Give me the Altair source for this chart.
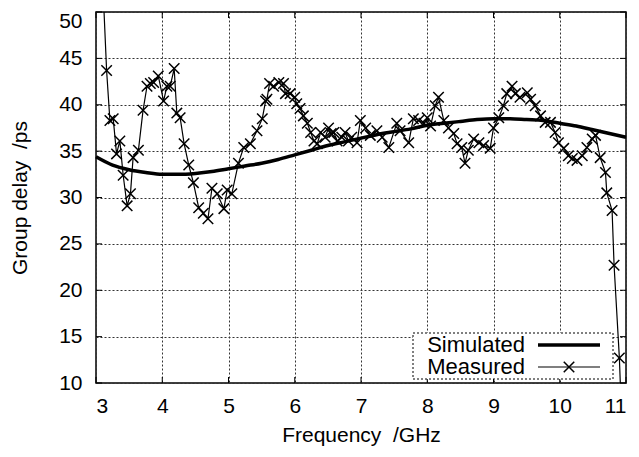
import altair as alt
import pandas as pd

# ---------------- data ----------------
meas_f = [3.06, 3.16, 3.21, 3.26, 3.31, 3.36, 3.41, 3.47, 3.52, 3.56, 3.64, 3.71,
          3.77, 3.82, 3.87, 3.94, 4.02, 4.07, 4.12, 4.18, 4.22, 4.27, 4.33, 4.40,
          4.47, 4.55, 4.62, 4.69, 4.75, 4.83, 4.93, 4.98, 5.05, 5.15, 5.23, 5.33,
          5.43, 5.51, 5.56, 5.58, 5.62, 5.68, 5.76, 5.83, 5.86, 5.93, 6.00, 6.03,
          6.08, 6.13, 6.19, 6.24, 6.29, 6.34, 6.39, 6.46, 6.51, 6.55, 6.59, 6.64,
          6.71, 6.76, 6.81, 6.86, 6.94, 6.99, 7.07, 7.14, 7.24, 7.32, 7.42, 7.54,
          7.59, 7.72, 7.79, 7.87, 7.95, 8.00, 8.05, 8.12, 8.17, 8.25, 8.32, 8.40,
          8.45, 8.52, 8.57, 8.62, 8.70, 8.78, 8.85, 8.95, 9.00, 9.08, 9.15, 9.20,
          9.28, 9.33, 9.40, 9.51, 9.56, 9.63, 9.71, 9.78, 9.86, 9.93, 9.98, 10.06,
          10.13, 10.19, 10.26, 10.34, 10.41, 10.49, 10.54, 10.61, 10.69, 10.71,
          10.79, 10.82, 10.90, 10.95]
meas_v = [60.0, 43.7, 38.3, 38.5, 34.7, 36.1, 32.4, 29.1, 30.4, 34.3, 35.1, 39.4,
          42.0, 42.3, 42.4, 43.1, 40.4, 42.0, 42.0, 43.9, 39.1, 38.6, 35.8, 33.5,
          31.6, 28.9, 28.3, 27.7, 31.0, 30.4, 28.8, 30.8, 30.4, 33.7, 35.4, 35.8,
          37.2, 38.5, 40.4, 40.6, 42.3, 42.0, 42.4, 42.3, 41.2, 41.2, 40.8, 40.1,
          39.6, 38.8, 38.0, 37.0, 36.1, 35.8, 37.0, 36.5, 37.5, 36.9, 37.0, 36.1,
          36.5, 37.0, 36.1, 36.5, 35.9, 38.3, 37.5, 36.7, 37.2, 36.5, 35.4, 38.0,
          37.2, 35.9, 38.5, 38.3, 38.0, 38.6, 37.7, 39.9, 40.8, 38.3, 37.5, 36.9,
          35.8, 35.4, 33.7, 35.1, 36.3, 35.9, 35.6, 35.3, 37.5, 38.6, 39.9, 41.2,
          42.0, 41.2, 40.8, 41.3, 40.6, 39.9, 38.8, 38.1, 38.1, 37.0, 35.9, 35.3,
          34.5, 34.2, 34.0, 34.5, 35.4, 36.3, 36.7, 34.3, 32.7, 30.5,
          28.6, 22.7, 12.7, 3.0]

sim_f = [3.0, 3.25, 3.5, 3.75, 4.0, 4.25, 4.5, 4.75, 5.0, 5.25, 5.5, 5.75, 6.0,
         6.25, 6.5, 6.75, 7.0, 7.25, 7.5, 7.75, 8.0, 8.25, 8.5, 8.75, 9.0, 9.25,
         9.5, 9.75, 10.0, 10.25, 10.5, 10.75, 11.0]
sim_v = [34.4, 33.5, 33.0, 32.7, 32.5, 32.5, 32.6, 32.8, 33.1, 33.4, 33.7, 34.1,
         34.6, 35.1, 35.6, 36.0, 36.4, 36.8, 37.1, 37.4, 37.8, 38.0, 38.2, 38.4,
         38.5, 38.5, 38.4, 38.3, 38.0, 37.7, 37.3, 36.9, 36.5]

x_ticks = [3, 4, 5, 6, 7, 8, 9, 10, 11]
y_ticks = [10, 15, 20, 25, 30, 35, 40, 45, 50]
legend_labels = ["Simulated", "Measured"]

measured = pd.DataFrame({"f": meas_f, "v": meas_v})
simulated = pd.DataFrame({"f": sim_f, "v": sim_v})
xt = pd.DataFrame({"t": x_ticks})
yt = pd.DataFrame({"t": y_ticks})

FONT = "Liberation Sans"
FS = 21
W, H = 530, 371
XSHAPE = "M-1,-1L1,1M-1,1L1,-1"

x_scale = alt.Scale(domain=[3, 11], nice=False, zero=False)
y_scale = alt.Scale(domain=[10, 50], nice=False, zero=False)

x_axis = alt.Axis(title="Frequency \u00a0/GHz", values=x_ticks, format="d",
                  labelPadding=12, titlePadding=8)
y_axis = alt.Axis(title="Group delay \u00a0/ps", values=y_ticks, format="d",
                  labelPadding=14, titlePadding=28,
                  labelOffset={"condition": {"test": "datum.value == 50", "value": 9},
                               "value": 0})

sim = alt.Chart(simulated).mark_line(
    color="black", strokeWidth=3.5, interpolate="monotone"
).encode(
    x=alt.X("f:Q", scale=x_scale, axis=x_axis),
    y=alt.Y("v:Q", scale=y_scale, axis=y_axis),
)

meas_line = alt.Chart(measured).mark_line(
    color="black", strokeWidth=1.2, clip=True
).encode(x=alt.X("f:Q", scale=x_scale), y=alt.Y("v:Q", scale=y_scale))

meas_pts = alt.Chart(measured).mark_point(
    shape=XSHAPE, size=110, strokeWidth=1.5, color="black", filled=False,
    opacity=1, clip=True
).encode(x=alt.X("f:Q", scale=x_scale), y=alt.Y("v:Q", scale=y_scale))

# inward tick marks on all four sides
TL = 6
tick_b = alt.Chart(xt).mark_rule(color="black", strokeWidth=1).encode(
    x=alt.X("t:Q", scale=x_scale), y=alt.value(H), y2=alt.value(H - TL))
tick_t = alt.Chart(xt).mark_rule(color="black", strokeWidth=1).encode(
    x=alt.X("t:Q", scale=x_scale), y=alt.value(0), y2=alt.value(TL))
tick_l = alt.Chart(yt).mark_rule(color="black", strokeWidth=1).encode(
    y=alt.Y("t:Q", scale=y_scale), x=alt.value(0), x2=alt.value(TL))
tick_r = alt.Chart(yt).mark_rule(color="black", strokeWidth=1).encode(
    y=alt.Y("t:Q", scale=y_scale), x=alt.value(W), x2=alt.value(W - TL))

# legend (gnuplot style: text left, sample right)
one = pd.DataFrame({"a": [0]})
leg_box = alt.Chart(one).mark_rect(
    fill="white", stroke="black", strokeDash=[2, 2], strokeWidth=1
).encode(x=alt.value(317), x2=alt.value(517), y=alt.value(321), y2=alt.value(367))
leg_t1 = alt.Chart(one).mark_text(
    align="right", baseline="middle", fontSize=22, font=FONT, color="black"
).encode(x=alt.value(429), y=alt.value(333), text=alt.value(legend_labels[0]))
leg_t2 = alt.Chart(one).mark_text(
    align="right", baseline="middle", fontSize=22, font=FONT, color="black"
).encode(x=alt.value(429), y=alt.value(355), text=alt.value(legend_labels[1]))
leg_l1 = alt.Chart(one).mark_rule(color="black", strokeWidth=3.5).encode(
    x=alt.value(442), x2=alt.value(504), y=alt.value(333))
leg_l2 = alt.Chart(one).mark_rule(color="black", strokeWidth=1.2).encode(
    x=alt.value(442), x2=alt.value(504), y=alt.value(355))
leg_p2 = alt.Chart(one).mark_point(
    shape=XSHAPE, size=110, strokeWidth=1.5, color="black", filled=False, opacity=1
).encode(x=alt.value(473), y=alt.value(355))

chart = alt.layer(
    sim, meas_line, meas_pts, tick_b, tick_t, tick_l, tick_r,
    leg_box, leg_t1, leg_t2, leg_l1, leg_l2, leg_p2
).properties(
    width=W, height=H,
    autosize=alt.AutoSizeParams(type="none"),
    padding={"left": 88, "top": 4, "right": 5, "bottom": 70},
).configure_view(
    stroke="black", strokeWidth=1.5
).configure_axis(
    domain=False, ticks=False, grid=True,
    gridDash=[2, 2], gridColor="#333333", gridWidth=1, gridOpacity=1,
    labelFont=FONT, labelFontSize=FS, labelColor="black",
    titleFont=FONT, titleFontSize=FS, titleFontWeight="normal", titleColor="black",
)

chart.save("out.html", embed_options={"renderer": "svg", "actions": False})
